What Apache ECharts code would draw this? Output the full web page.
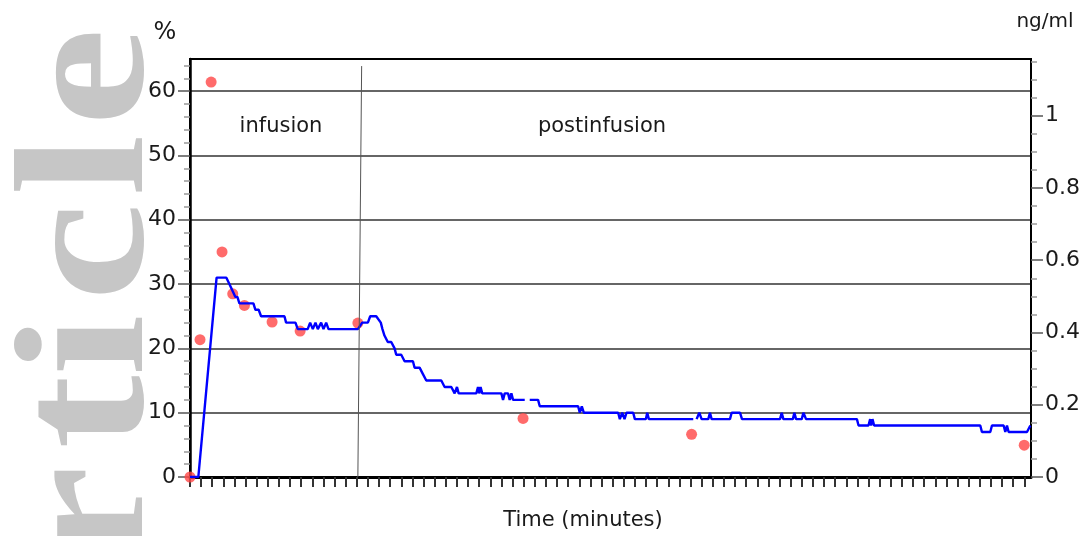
<!DOCTYPE html>
<html>
<head>
<meta charset="utf-8">
<script src="https://cdn.jsdelivr.net/npm/echarts@6/dist/echarts.min.js"></script>
<style>
html,body{margin:0;padding:0;background:#fff;}
#chart{width:1084px;height:536px;}
</style>
</head>
<body>
<div id="chart"></div>
<script>
// ---- data ----
// continuous trace (left axis, %), time in minutes; null = gap
const traceTime = [0,0.75,2.39,3.27,3.54,3.81,4.08,4.26,4.44,5.70,5.88,6.17,6.39,8.49,8.64,9.48,9.69,10.58,10.80,11.04,11.28,11.49,11.79,12.00,12.24,12.45,12.69,15.09,15.48,15.99,16.20,16.74,17.15,17.30,17.48,17.78,18.09,18.39,18.54,18.99,19.29,20.04,20.19,20.64,20.94,21.24,22.59,22.89,23.49,23.79,24.00,24.15,25.74,25.89,26.00,26.12,26.27,27.99,28.14,28.29,28.59,28.74,28.89,29.04,30.09,30.30,30.54,31.29,31.44,34.89,35.04,35.22,35.40,38.49,38.64,38.85,39.06,39.24,39.84,39.99,40.98,41.10,41.25,45.24,45.40,45.54,45.78,45.99,46.59,46.74,46.89,48.54,48.69,49.44,49.62,53.04,53.19,53.34,54.19,54.33,54.48,54.99,55.14,55.23,55.38,59.95,60.10,60.99,61.14,61.23,61.35,61.50,71.04,71.19,71.94,72.09,73.14,73.29,73.44,73.59,75.24,75.54];
const tracePct = [0,0,31,31,30,29,28,28,27,27,26,26,25,25,24,24,23,23,24,23,24,23,24,23,24,23,23,23,24,24,25,25,24,23,22,21,21,20,19,19,18,18,17,17,16,15,15,14,14,13,14,13,13,14,13,14,13,13,12,13,13,12,13,12,12,null,12,12,11,11,10,11,10,10,9,10,9,10,10,9,9,10,9,9,null,9,10,9,9,10,9,9,10,10,9,9,10,9,9,10,9,9,10,10,9,9,8,8,9,8,9,8,8,7,7,8,8,7,8,7,7,8];
// sampled concentrations (right axis, ng/ml)
const sampleTime = [0,0.9,1.9,2.88,3.84,4.89,7.38,9.9,15.09,29.94,45.09,74.99];
const sampleConc = [0,0.380,1.093,0.623,0.507,0.475,0.429,0.404,0.426,0.162,0.118,0.088];
// phase boundary (end of infusion), minutes
const infusionEnd = [15.43, 15.09];
// axis ticks
const leftMajor = [0,10,20,30,40,50,60];
const leftMinor = [2,4,6,8,12,14,16,18,22,24,26,28,32,34,36,38,42,44,46,48,52,54,56,58,62,64];
const rightMajor = [0,0.2,0.4,0.6,0.8,1];
const rightMinor = [0.05,0.1,0.15,0.25,0.3,0.35,0.45,0.5,0.55,0.65,0.7,0.75,0.85,0.9,0.95,1.05,1.1,1.15];
const xTicks = Array.from({length:76},(_,i)=>i);
// background watermark letters (reading bottom to top)
const wmLetters = ['e','l','c','i','t','r'];
const wmCenters = [77,165,252,345,412,515];

const FONT = '"DejaVu Sans", sans-serif';
const traceData = traceTime.map((t,i)=>[t, tracePct[i]===null ? '-' : tracePct[i]]);
const dotData = sampleTime.map((t,i)=>[t, sampleConc[i]]);

const chart = echarts.init(document.getElementById('chart'), null, {renderer:'canvas'});
const yBase = {type:'value', splitLine:{show:false}, axisLabel:{show:false}, axisLine:{show:false}};
const centered = {align:'center', verticalAlign:'middle', textAlign:'center', textVerticalAlign:'middle', fill:'#1a1a1a'};
const watermark = wmLetters.map((ch,i)=>({
  type:'text', x:186, y:wmCenters[i], rotation:Math.PI/2, scaleX:1.2, scaleY:1, z:-10, silent:true,
  style:{text:ch, font:'bold 184px "Liberation Serif"', fill:'#c6c6c6',
    textAlign:'center', align:'center', textVerticalAlign:'bottom', verticalAlign:'bottom'}
}));
chart.setOption({
  animation:false,
  backgroundColor:'#fff',
  grid:{left:190, right:53, top:59, bottom:59, show:true, borderColor:'#000', borderWidth:2, backgroundColor:'transparent'},
  xAxis:{type:'value', min:0, max:75.6, interval:1,
    axisLine:{show:true, lineStyle:{color:'#000', width:3}},
    axisTick:{show:true, customValues:xTicks, length:10, lineStyle:{color:'#333', width:2}},
    axisLabel:{show:false}, splitLine:{show:false}},
  yAxis:[
    {type:'value', min:0, max:65, interval:10, position:'left',
      axisLine:{show:true, lineStyle:{color:'#000', width:2.5}},
      axisTick:{show:true, customValues:leftMajor, length:12, lineStyle:{color:'#555', width:1.5}},
      axisLabel:{show:true, customValues:leftMajor, margin:14, fontSize:22, fontFamily:FONT, color:'#1a1a1a'},
      splitLine:{show:true, lineStyle:{color:'#333', width:1.5}}},
    Object.assign({}, yBase, {min:0, max:65, interval:2, position:'left', offset:0,
      axisTick:{show:true, customValues:leftMinor, length:6, lineStyle:{color:'#999', width:1.5}}}),
    {type:'value', min:0, max:1.157, interval:0.2, position:'right', offset:0,
      axisLine:{show:true, lineStyle:{color:'#000', width:2}},
      axisTick:{show:true, customValues:rightMajor, length:12, lineStyle:{color:'#555', width:1.5}},
      axisLabel:{show:true, customValues:rightMajor, margin:14, fontSize:22, fontFamily:FONT, color:'#1a1a1a'},
      splitLine:{show:false}},
    Object.assign({}, yBase, {min:0, max:1.157, interval:0.05, position:'right', offset:0,
      axisTick:{show:true, customValues:rightMinor, length:6, lineStyle:{color:'#999', width:1.5}}})
  ],
  series:[
    {type:'scatter', yAxisIndex:2, data:dotData, symbolSize:11, clip:false, z:2,
      itemStyle:{color:'#ff4646'}},
    {type:'line', yAxisIndex:0, data:traceData, showSymbol:false, connectNulls:false, z:3,
      lineStyle:{color:'#0000ff', width:2.4}, emphasis:{disabled:true},
      markLine:{silent:true, symbol:['none','none'], label:{show:false},
        lineStyle:{color:'#555', width:1, type:'solid'},
        data:[[{coord:[infusionEnd[0], 63.9]},{coord:[infusionEnd[1], 0]}]]}}
  ],
  graphic:watermark.concat([
    {type:'text', x:281, y:127, style:Object.assign({text:'infusion', font:'21px '+FONT}, centered)},
    {type:'text', x:602, y:127, style:Object.assign({text:'postinfusion', font:'21px '+FONT}, centered)},
    {type:'text', x:583, y:521, style:Object.assign({text:'Time (minutes)', font:'21px '+FONT}, centered)},
    {type:'text', x:165, y:33, style:Object.assign({text:'%', font:'24px '+FONT}, centered)},
    {type:'text', x:1045, y:22, style:Object.assign({text:'ng/ml', font:'20px '+FONT}, centered)}
  ])
});
</script>
</body>
</html>
